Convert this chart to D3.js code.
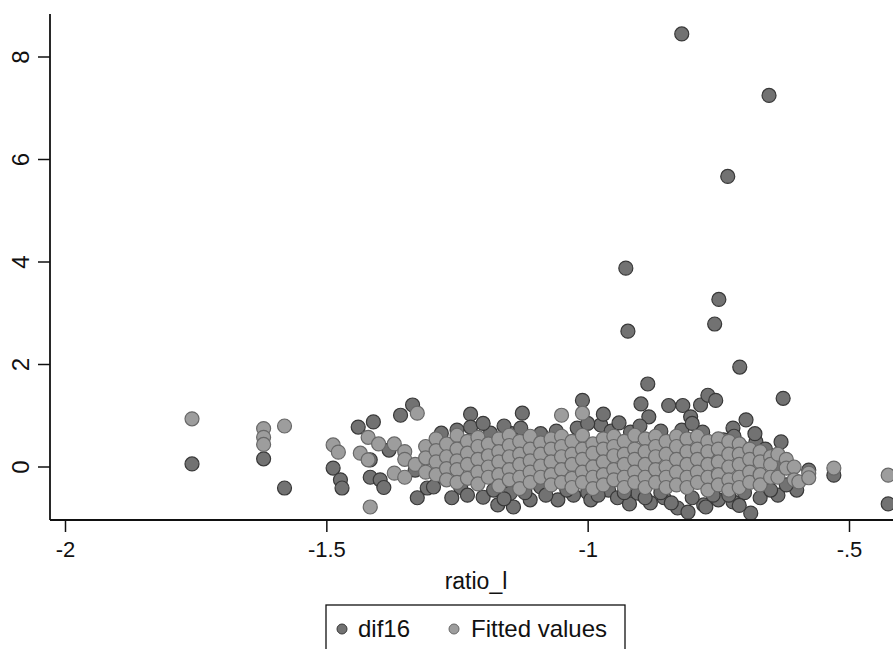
<!DOCTYPE html>
<html>
<head>
<meta charset="utf-8">
<script src="https://cdn.jsdelivr.net/npm/d3@7"></script>
<style>
  body { margin: 0; background: #fff; }
  text { font-family: "Liberation Sans", Arial, sans-serif; fill: #111; }
</style>
</head>
<body>
<div id="chart"></div>
<script>
(function() {
    'use strict';

    // x ticks and labels
    var xTicks = [-2, -1.5, -1, -0.5];
    var xTickLabels = ['-2', '-1.5', '-1', '-.5'];
    var yTicks = [0, 2, 4, 6, 8];

    // dif16, points [ratio_l, dif16]
    var dif16 = [
        [-1.757, 0.06], [-1.62, 0.16], [-1.58, -0.41],
        [-1.487, -0.02], [-1.473, -0.25], [-1.47, -0.41],
        [-1.439, 0.78], [-1.41, 0.88], [-1.416, 0.14], [-1.416, -0.2], [-1.397, -0.25], [-1.39, -0.4],
        [-1.38, 0.33], [-1.358, 1.01], [-1.335, 1.21], [-1.33, -0.06], [-1.307, -0.41], [-1.326, -0.6],
        [-1.28, 0.66], [-1.25, 0.72], [-1.224, 1.03], [-1.224, 0.78], [-1.186, 0.66], [-1.145, 0.65],
        [-1.128, 0.76], [-1.125, 1.05], [-1.09, 0.65], [-1.06, 0.7], [-1.01, 1.3], [-1.02, 0.76],
        [-0.975, 0.82], [-0.97, 1.03], [-0.955, 0.7], [-0.94, 0.86], [-0.918, 0.68], [-0.898, 1.23],
        [-0.885, 1.62], [-0.883, 0.98], [-0.86, 0.7], [-0.845, 1.2], [-0.82, 0.72], [-0.818, 1.2],
        [-0.803, 0.98], [-0.784, 1.21], [-0.78, 0.68], [-0.77, 1.40], [-0.755, 1.3], [-0.74, 0.53],
        [-0.722, 0.76], [-0.703, 0.37], [-0.697, 0.92], [-0.678, 0.49], [-0.63, 0.49], [-0.626, 1.34],
        [-1.2, 0.85], [-1.16, 0.8], [-1.0, 0.85], [-0.9, 0.8], [-0.8, 0.85], [-0.72, 0.6], [-0.68, 0.65],
        [-0.82, 8.45], [-0.653, 7.25], [-0.732, 5.67], [-0.927, 3.88], [-0.749, 3.27], [-0.757, 2.79],
        [-0.923, 2.65], [-0.709, 1.95],
        [-1.295, -0.39], [-1.276, -0.2], [-1.243, -0.4], [-1.23, -0.55], [-1.2, -0.59], [-1.172, -0.74],
        [-1.142, -0.78], [-1.148, -0.51], [-1.11, -0.64], [-1.09, -0.39], [-1.057, -0.64], [-1.027, -0.55],
        [-1.0, -0.5], [-0.994, -0.64], [-0.96, -0.45], [-0.943, -0.6], [-0.92, -0.72], [-0.904, -0.51],
        [-0.88, -0.7], [-0.854, -0.6], [-0.828, -0.8], [-0.808, -0.88], [-0.778, -0.74], [-0.774, -0.78],
        [-0.75, -0.64], [-0.722, -0.68], [-0.7, -0.5], [-0.688, -0.9], [-0.67, -0.6], [-0.636, -0.55],
        [-0.6, -0.45],
        [-1.26, -0.6], [-1.18, -0.45], [-1.16, -0.62], [-1.12, -0.5], [-1.08, -0.55], [-1.04, -0.45],
        [-0.98, -0.55], [-0.93, -0.5], [-0.89, -0.6], [-0.86, -0.5], [-0.84, -0.7], [-0.8, -0.6],
        [-0.76, -0.55], [-0.73, -0.55], [-0.71, -0.75], [-0.65, -0.45], [-0.62, -0.35],
        [-0.529, -0.16], [-0.577, -0.06], [-0.425, -0.72],
        [-1.2, 0.1], [-1.05, 0.0], [-0.9, 0.2], [-0.75, 0.1], [-0.66, 0.35], [-0.64, 0.0]
    ];

    var fittedCols = [
        [-1.757, [0.94]],
        [-1.62, [0.75, 0.58, 0.44]],
        [-1.58, [0.80]],
        [-1.487, [0.43]],
        [-1.477, [0.29]],
        [-1.435, [0.27]],
        [-1.42, [0.58, 0.14]],
        [-1.416, [-0.78]],
        [-1.40, [0.45]],
        [-1.37, [0.45, -0.12]],
        [-1.35, [0.30, 0.15, -0.2]],
        [-1.326, [1.05]],
        [-1.33, [0.05]],
        [-1.31, [0.40, 0.18, -0.1]],
        [-1.29, [0.55, 0.32, 0.1, -0.15]],
        [-1.27, [0.45, 0.2, -0.03, -0.25]],
        [-1.25, [0.62, 0.35, 0.12, -0.05, -0.3]],
        [-1.23, [0.5, 0.27, 0.05, -0.22]],
        [-1.21, [0.58, 0.4, 0.15, -0.1, -0.33]],
        [-1.19, [0.45, 0.22, 0.0, -0.2]],
        [-1.17, [0.55, 0.3, 0.1, -0.15, -0.37]],
        [-1.15, [0.62, 0.42, 0.2, -0.05, -0.25]],
        [-1.13, [0.5, 0.25, 0.05, -0.2, -0.42]],
        [-1.11, [0.6, 0.35, 0.12, -0.1, -0.3]],
        [-1.09, [0.47, 0.25, 0.02, -0.2]],
        [-1.07, [0.55, 0.35, 0.1, -0.15, -0.35]],
        [-1.05, [1.01, 0.6, 0.4, 0.2, -0.05, -0.3]],
        [-1.03, [0.5, 0.25, 0.05, -0.22, -0.4]],
        [-1.01, [1.05, 0.62, 0.35, 0.15, -0.1, -0.3]],
        [-0.99, [0.45, 0.27, 0.0, -0.2, -0.42]],
        [-0.97, [0.55, 0.35, 0.1, -0.15, -0.35]],
        [-0.95, [0.6, 0.4, 0.22, -0.05, -0.25]],
        [-0.93, [0.5, 0.25, 0.05, -0.2, -0.4]],
        [-0.91, [0.62, 0.35, 0.15, -0.1, -0.3]],
        [-0.89, [0.55, 0.3, 0.05, -0.2, -0.4]],
        [-0.87, [0.6, 0.4, 0.2, -0.05, -0.3]],
        [-0.85, [0.5, 0.25, 0.0, -0.2, -0.4]],
        [-0.83, [0.6, 0.4, 0.15, -0.1, -0.35]],
        [-0.81, [0.55, 0.3, 0.05, -0.2, -0.4]],
        [-0.79, [0.6, 0.35, 0.15, -0.1, -0.3]],
        [-0.77, [0.5, 0.3, 0.05, -0.2, -0.45]],
        [-0.75, [0.55, 0.35, 0.1, -0.15, -0.35]],
        [-0.73, [0.5, 0.25, 0.0, -0.25, -0.45]],
        [-0.71, [0.45, 0.25, 0.05, -0.2, -0.4]],
        [-0.69, [0.35, 0.15, -0.1, -0.3]],
        [-0.67, [0.3, 0.1, -0.15, -0.35]],
        [-0.65, [0.2, 0.05, -0.2]],
        [-0.636, [0.25, -0.2]],
        [-0.62, [0.15, -0.02]],
        [-0.605, [0.0, -0.25]],
        [-0.596, [-0.29]],
        [-0.577, [-0.12, -0.21]],
        [-0.529, [-0.02]],
        [-0.425, [-0.16]]
    ];

    var fitted = [];
    fittedCols.forEach(function(c) {
        c[1].forEach(function(v) { fitted.push([c[0], v]); });
    });

    var width = 893, height = 649;
    var x = d3.scaleLinear().domain([-2, -0.5]).range([65, 849]);
    var y = d3.scaleLinear().domain([0, 8]).range([467, 57]);
    var left = 50, bottom = 520, top = 14;

    var svg = d3.select('#chart')
      .append('svg')
        .attr('width', width)
        .attr('height', height);

    svg.append('rect')
        .attr('width', width)
        .attr('height', height)
        .attr('fill', 'white');

    var r = 7;
    function dots(data, fill, stroke) {
        svg.append('g')
          .selectAll('circle')
          .data(data)
          .join('circle')
            .attr('cx', function(d) { return x(d[0]); })
            .attr('cy', function(d) { return y(d[1]); })
            .attr('r', r)
            .attr('fill', fill)
            .attr('stroke', stroke)
            .attr('stroke-width', 1.2);
    }
    dots(dif16, '#727272', '#383838');
    dots(fitted, '#9d9d9d', '#686868');

    // axes
    svg.append('line')
        .attr('x1', left).attr('x2', left)
        .attr('y1', top).attr('y2', bottom)
        .attr('stroke', '#111').attr('stroke-width', 1.8);
    svg.append('line')
        .attr('x1', left).attr('x2', width)
        .attr('y1', bottom).attr('y2', bottom)
        .attr('stroke', '#111').attr('stroke-width', 1.8);

    var gy = svg.append('g')
        .attr('transform', 'translate(' + left + ',0)')
        .call(d3.axisLeft(y).tickValues(yTicks).tickSize(12).tickFormat(d3.format('d')));
    gy.select('.domain').remove();
    gy.selectAll('.tick').attr('transform', 'translate(0,0)');
    gy.selectAll('.tick line')
        .attr('stroke', '#111').attr('stroke-width', 1.5)
        .attr('y1', function(d) { return y(d); })
        .attr('y2', function(d) { return y(d); });
    gy.selectAll('text')
        .attr('x', 0).attr('y', 0).attr('dy', 0)
        .attr('text-anchor', 'middle')
        .attr('font-size', 24)
        .attr('transform', function(d) { return 'translate(-21,' + y(d) + ') rotate(-90)'; });

    var gx = svg.append('g')
        .attr('transform', 'translate(0,' + bottom + ')')
        .call(d3.axisBottom(x).tickValues(xTicks).tickSize(12)
              .tickFormat(function(d, i) { return xTickLabels[i]; }));
    gx.select('.domain').remove();
    gx.selectAll('line').attr('stroke', '#111').attr('stroke-width', 1.5);
    gx.selectAll('text')
        .attr('font-size', 22)
        .attr('dy', 0)
        .attr('y', 37);

    svg.append('text')
        .attr('x', 476)
        .attr('y', 589)
        .attr('text-anchor', 'middle')
        .attr('font-size', 23)
        .text('ratio_l');

    // legend
    var lg = svg.append('g');
    lg.append('rect')
        .attr('x', 326).attr('y', 605)
        .attr('width', 299).attr('height', 60)
        .attr('fill', 'white')
        .attr('stroke', '#111').attr('stroke-width', 1.3);
    var legendItems = [
        { label: 'dif16', fill: '#727272', stroke: '#383838', mx: 342, tx: 358 },
        { label: 'Fitted values', fill: '#9d9d9d', stroke: '#686868', mx: 454, tx: 471 }
    ];
    legendItems.forEach(function(it) {
        lg.append('circle')
            .attr('cx', it.mx).attr('cy', 629).attr('r', 5)
            .attr('fill', it.fill).attr('stroke', it.stroke).attr('stroke-width', 1);
        lg.append('text')
            .attr('x', it.tx).attr('y', 637)
            .attr('font-size', 24)
            .text(it.label);
    });
}());
</script>
</body>
</html>
